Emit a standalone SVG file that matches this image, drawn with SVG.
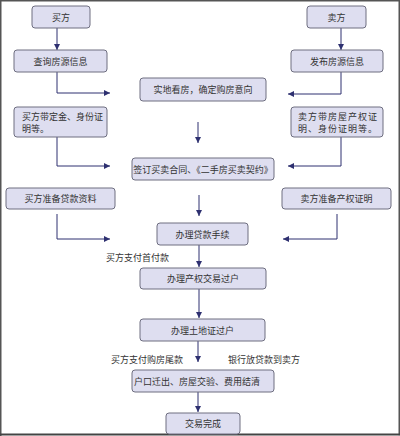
<svg xmlns="http://www.w3.org/2000/svg" width="400" height="436" viewBox="0 0 400 436">
<defs>
<marker id="ah" viewBox="0 0 6 6" refX="6" refY="3" markerWidth="6" markerHeight="6" markerUnits="userSpaceOnUse" orient="auto">
<path d="M0,0 L6,3 L0,6 z" fill="#2e3070"/>
</marker>
<style>
.box{fill:#dedef0;stroke:#6e6e80;stroke-width:1}
.t{font-family:"Noto Sans CJK SC","Noto Sans CJK JP",sans-serif;font-size:9px;fill:#333;text-anchor:middle;dominant-baseline:central}
.l{font-family:"Noto Sans CJK SC","Noto Sans CJK JP",sans-serif;font-size:9px;fill:#333;dominant-baseline:central}
.c{fill:none;stroke:#2e3070;stroke-width:1;marker-end:url(#ah)}
</style>
</defs>
<rect x="0" y="0" width="400" height="436" fill="#ffffff"/>
<path d="M0.75,436 V0.75 H399.25 V435.25" fill="none" stroke="#555" stroke-width="1.5"/>
<path d="M0,434.5 H400" stroke="#444" stroke-width="2"/>
<g id="connectors">
<path class="c" d="M57,28 V50"/>
<path class="c" d="M341,28 V50"/>
<path class="c" d="M57,72 V93 H110"/>
<path class="c" d="M341,72 V94 H288"/>
<path class="c" d="M198,122 V143"/>
<path class="c" d="M57,137 V166 H110"/>
<path class="c" d="M341,137 V166 H288"/>
<path class="c" d="M199,195 V216"/>
<path class="c" d="M57,214 V239 H110"/>
<path class="c" d="M337,214 V239 H283"/>
<path class="c" d="M199,245 V267"/>
<path class="c" d="M199,289 V318"/>
<path class="c" d="M198,341 V362"/>
<path class="c" d="M198,392 V412"/>
</g>
<g id="n-buyer"><rect class="box" x="32" y="6" width="58" height="22" rx="3"/><text class="t" x="61" y="17">买方</text></g>
<g id="n-seller"><rect class="box" x="307" y="6" width="59" height="22" rx="3"/><text class="t" x="336.5" y="17">卖方</text></g>
<g id="n-query"><rect class="box" x="14" y="50" width="93" height="22" rx="3"/><text class="t" x="60.5" y="61">查询房源信息</text></g>
<g id="n-publish"><rect class="box" x="291" y="50" width="92" height="22" rx="3"/><text class="t" x="337" y="61">发布房源信息</text></g>
<g id="n-view"><rect class="box" x="140" y="78" width="126" height="23" rx="3"/><text class="t" x="203" y="89.5">实地看房，确定购房意向</text></g>
<g id="n-buyerdocs"><rect class="box" x="14" y="107" width="93" height="30" rx="3"/><text class="l" x="22" y="116">买方带定金、身份证</text><text class="l" x="22" y="128">明等。</text></g>
<g id="n-sellerdocs"><rect class="box" x="291" y="107" width="92" height="30" rx="3"/><text class="l" x="298" y="116" letter-spacing="1">卖方带房屋产权证</text><text class="l" x="298" y="128" letter-spacing="1">明、身份证明等。</text></g>
<g id="n-contract"><rect class="box" x="132" y="158" width="142" height="22" rx="3"/><text class="t" x="203" y="169" font-size="8.3">签订买卖合同、《二手房买卖契约》</text></g>
<g id="n-loandocs"><rect class="box" x="6" y="188" width="109" height="21" rx="3"/><text class="t" x="60.5" y="198.5">买方准备贷款资料</text></g>
<g id="n-certdocs"><rect class="box" x="282" y="188" width="109" height="21" rx="3"/><text class="t" x="336.5" y="198.5">卖方准备产权证明</text></g>
<g id="n-loan"><rect class="box" x="157" y="223" width="91" height="22" rx="3"/><text class="t" x="202.5" y="234">办理贷款手续</text></g>
<g id="n-transfer"><rect class="box" x="140" y="268" width="126" height="21" rx="3"/><text class="t" x="203" y="278.5">办理产权交易过户</text></g>
<g id="n-land"><rect class="box" x="140" y="319" width="125" height="22" rx="3"/><text class="t" x="202.5" y="330">办理土地证过户</text></g>
<g id="n-settle"><rect class="box" x="132" y="370" width="142" height="22" rx="3"/><text class="t" x="197" y="381">户口迁出、房屋交验、费用结清</text></g>
<g id="n-done"><rect class="box" x="166" y="413" width="74" height="21" rx="3"/><text class="t" x="203" y="423.5">交易完成</text></g>
<g id="labels">
<text class="l" x="106" y="257">买方支付首付款</text>
<text class="l" x="111" y="359">买方支付购房尾款</text>
<text class="l" x="228" y="359">银行放贷款到卖方</text>
</g>
</svg>
